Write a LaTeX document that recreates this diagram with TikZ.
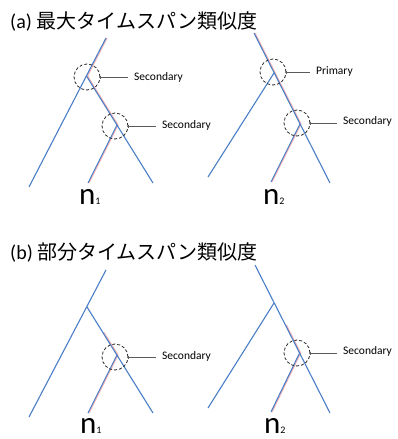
\documentclass[tikz,border=0pt]{standalone}
\usepackage{fontspec}
\setmainfont{Carlito}
\newfontfamily\jp{Noto Sans CJK JP}
\usetikzlibrary{arrows.meta}
\definecolor{treeblue}{RGB}{74,126,198}
\definecolor{treepink}{RGB}{245,170,170}
\definecolor{leadgray}{RGB}{90,90,90}
\begin{document}
\begin{tikzpicture}[x=1pt,y=-1pt,
  branch/.style={treeblue,line width=1.1pt},
  trace/.style={treepink,line width=0.9pt},
  dashcirc/.style={circle,draw=black!85,dashed,dash pattern=on 3pt off 2pt,line width=0.8pt,minimum size=26pt,inner sep=0pt},
  lbl/.style={anchor=west,inner sep=0pt,font=\fontsize{11.5}{13}\selectfont},
  lead/.style={leadgray,line width=0.9pt,{Bar[width=3pt,line width=0.8pt]}-,shorten >=6pt},
  title/.style={anchor=base west,inner sep=0pt,font=\fontsize{20}{24}\selectfont},
  leaf/.style={anchor=base west,inner sep=0pt}
]
\useasboundingbox (0,0) rectangle (398,439);
\newcommand{\nlab}[1]{{\fontsize{31}{31}\selectfont n}{\fontsize{10}{10}\selectfont #1}}
\def\ps{1.1pt}

% titles
\node[title] (ta) at (10,28) {(a) {\jp 最大タイムスパン類似度}};
\node[title] (tb) at (10,259) {(b) {\jp 部分タイムスパン類似度}};

% ---- (a) left
\coordinate (aR) at (106,38);
\coordinate (aJ1) at (86.5,76);
\coordinate (aL) at (29,187);
\coordinate (aRl) at (153,183);
\coordinate (aJ2) at (117,125);
\coordinate (aM) at (88,183);
\draw[trace] ([xshift=\ps]aR) -- ([xshift=\ps]aJ1) -- ([xshift=\ps]aJ2) -- ([xshift=\ps]aM);
\draw[branch] (aR) -- (aL);
\draw[branch] (aJ1) -- (aRl);
\draw[branch] (aJ2) -- (aM);
\node[dashcirc] (ac1) at (87,77) {};
\node[dashcirc] (ac2) at (115,126) {};
\node[lbl] (al1) at (134,77) {Secondary};
\node[lbl] (al2) at (162,125) {Secondary};
\draw[lead] (ac1.east) -- (ac1.east -| al1.west);
\draw[lead] (ac2.east) -- (ac2.east -| al2.west);
\node[leaf] (an1) at (79,204) {\nlab{1}};

% ---- (a) right
\coordinate (bR) at (254,33);
\coordinate (bJ1) at (274,73);
\coordinate (bRl) at (330,183);
\coordinate (bL) at (208,177);
\coordinate (bJ2) at (300,124);
\coordinate (bM) at (271,182);
\draw[trace] ([xshift=\ps]bR) -- ([xshift=\ps]bJ2) -- ([xshift=\ps]bM);
\draw[branch] (bR) -- (bRl);
\draw[branch] (bJ1) -- (bL);
\draw[branch] (bJ2) -- (bM);
\node[dashcirc] (bc1) at (273,72) {};
\node[dashcirc] (bc2) at (297,123) {};
\node[lbl] (bl1) at (316,71) {Primary};
\node[lbl] (bl2) at (343,121) {Secondary};
\draw[lead] (bc1.east) -- (bc1.east -| bl1.west);
\draw[lead] (bc2.east) -- (bc2.east -| bl2.west);
\node[leaf] (an2) at (263,204) {\nlab{2}};

% ---- (b) left
\coordinate (cR) at (106,270);
\coordinate (cJ1) at (87,307);
\coordinate (cL) at (29,417);
\coordinate (cRl) at (153,413);
\coordinate (cJ2) at (117,355);
\coordinate (cM) at (88,413);
\coordinate (cP) at (102.6,332);
\draw[trace] ([xshift=\ps]cP) -- ([xshift=\ps]cJ2) -- ([xshift=\ps]cM);
\draw[branch] (cR) -- (cL);
\draw[branch] (cJ1) -- (cRl);
\draw[branch] (cJ2) -- (cM);
\node[dashcirc] (cc1) at (115,357) {};
\node[lbl] (cl1) at (162,356) {Secondary};
\draw[lead] (cc1.east) -- (cc1.east -| cl1.west);
\node[leaf] (bn1) at (80,433) {\nlab{1}};

% ---- (b) right
\coordinate (dR) at (255,265);
\coordinate (dJ1) at (274,303);
\coordinate (dRl) at (330,413);
\coordinate (dL) at (208,408);
\coordinate (dJ2) at (299.6,353);
\coordinate (dM) at (271,412);
\coordinate (dP) at (285.4,325);
\draw[trace] ([xshift=\ps]dP) -- ([xshift=\ps]dJ2) -- ([xshift=\ps]dM);
\draw[branch] (dR) -- (dRl);
\draw[branch] (dJ1) -- (dL);
\draw[branch] (dJ2) -- (dM);
\node[dashcirc] (dc1) at (297,353) {};
\node[lbl] (dl1) at (343,351) {Secondary};
\draw[lead] (dc1.east) -- (dc1.east -| dl1.west);
\node[leaf] (bn2) at (264,433) {\nlab{2}};
\end{tikzpicture}
\end{document}
